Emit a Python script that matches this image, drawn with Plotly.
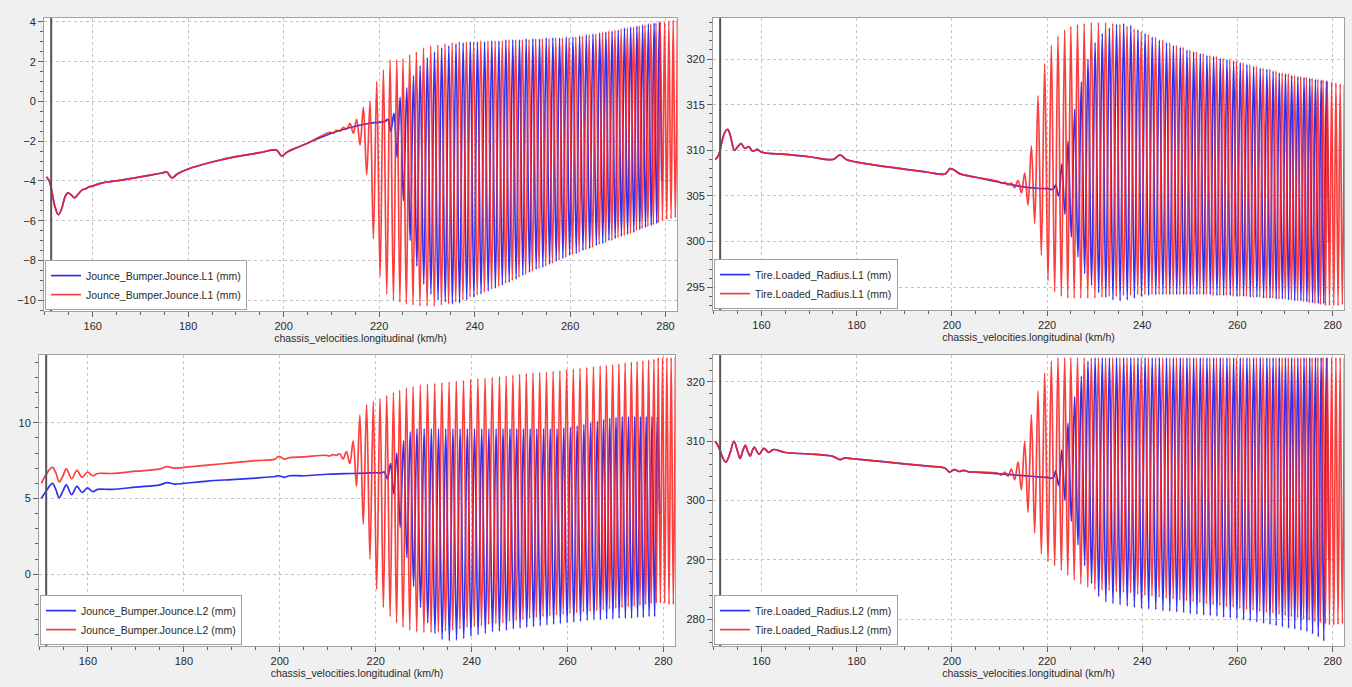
import plotly.graph_objects as go

# ---------------- DATA ----------------
title_x = "chassis_velocities.longitudinal (km/h)"
names = ["Jounce_Bumper.Jounce.L1 (mm)", "Tire.Loaded_Radius.L1 (mm)",
         "Jounce_Bumper.Jounce.L2 (mm)", "Tire.Loaded_Radius.L2 (mm)"]
cursor_x = 151.3

# shared oscillation extrema positions (km/h)
red_peak_x = [209.7, 211.1, 212.5, 213.9, 215.3, 216.7, 218.1, 219.5, 220.9, 222.3,
              223.7, 225.0, 226.4, 227.8, 229.3, 230.8, 232.3, 233.8, 235.3, 236.8,
              238.3, 239.8, 241.3, 242.8, 244.3, 245.8, 247.2, 248.6, 250.0, 251.4,
              252.8, 254.2, 255.6, 257.0, 258.4, 259.8, 261.2, 262.6, 264.0, 265.4,
              266.8, 268.1, 269.4, 270.7, 272.0, 273.3, 274.5, 275.7, 276.9, 278.0]
red_trough_x = [210.4, 211.8, 213.2, 214.6, 216.0, 217.4, 218.8, 220.2, 221.6, 223.0,
                224.35, 225.7, 227.1, 228.55, 230.05, 231.55, 233.05, 234.55, 236.05, 237.55,
                239.05, 240.55, 242.05, 243.55, 245.05, 246.5, 247.9, 249.3, 250.7, 252.1,
                253.5, 254.9, 256.3, 257.7, 259.1, 260.5, 261.9, 263.3, 264.7, 266.1,
                267.45, 268.75, 270.05, 271.35, 272.65, 273.9, 275.1, 276.3, 277.45, 278.5]
red_end_x = [278.9, 279.35, 279.8, 280.25, 280.7, 281.15, 281.6, 282.05, 282.5]
blue_peak_x = [221.8, 223.1, 224.4, 225.8, 227.2, 228.6, 230.1, 231.6, 233.1, 234.6,
               236.1, 237.6, 239.1, 240.6, 242.1, 243.6, 245.1, 246.55, 248.0, 249.4,
               250.8, 252.2, 253.6, 255.0, 256.4, 257.8, 259.2, 260.6, 262.0, 263.4,
               264.8, 266.2, 267.5, 268.8, 270.1, 271.4, 272.7, 274.0, 275.2, 276.4,
               277.6, 278.7]
blue_trough_x = [222.45, 223.75, 225.1, 226.5, 227.9, 229.35, 230.85, 232.35, 233.85, 235.35,
                 236.85, 238.35, 239.85, 241.35, 242.85, 244.35, 245.8, 247.25, 248.7, 250.1,
                 251.5, 252.9, 254.3, 255.7, 257.1, 258.5, 259.9, 261.3, 262.7, 264.1,
                 265.5, 266.85, 268.15, 269.45, 270.75, 272.05, 273.35, 274.6, 275.8, 277.0,
                 278.15, 279.2]

# ---- panel 1: Jounce L1 ----
p1_x = [150.3, 150.9, 151.5, 152.1, 152.8, 153.5, 154.2, 154.8, 155.5, 156.2, 157.0, 157.8,
        158.5, 159.2, 160.0, 162.0, 165.0, 170.0, 174.5, 175.5, 176.6, 177.7, 180.0, 185.0,
        190.0, 195.0, 198.5, 199.6, 200.7, 202.0, 205.0, 210.0, 215.0, 218.0, 220.0, 221.3]
p1_y = [-3.8, -4.0, -4.6, -5.3, -5.7, -5.4, -4.8, -4.6, -4.7, -4.85, -4.65, -4.45,
        -4.4, -4.3, -4.25, -4.1, -4.0, -3.8, -3.6, -3.55, -3.85, -3.65, -3.4, -3.05,
        -2.78, -2.58, -2.45, -2.75, -2.55, -2.4, -2.1, -1.6, -1.25, -1.1, -1.05, -1.0]
p1_red_peak = [-1.55, -1.45, -1.3, -1.1, -0.9, -0.3, 0.0, 1.0, 1.6, 2.1,
               2.1, 2.15, 2.35, 2.5, 2.7, 2.8, 2.85, 2.9, 2.95, 3.0,
               3.0, 3.0, 3.05, 3.05, 3.05, 3.05, 3.1, 3.1, 3.1, 3.1,
               3.15, 3.15, 3.15, 3.2, 3.2, 3.2, 3.25, 3.3, 3.35, 3.4,
               3.5, 3.55, 3.6, 3.65, 3.7, 3.75, 3.8, 3.85, 3.9, 3.95]
p1_red_trough = [-1.6, -1.5, -1.4, -1.6, -2.2, -3.7, -6.9, -8.8, -9.7, -10.0,
                 -10.1, -10.2, -10.25, -10.3, -10.3, -10.3, -10.25, -10.2, -10.1, -10.0,
                 -9.85, -9.75, -9.6, -9.45, -9.3, -9.15, -9.0, -8.85, -8.7, -8.55,
                 -8.4, -8.3, -8.15, -8.0, -7.85, -7.7, -7.6, -7.45, -7.35, -7.2,
                 -7.1, -7.0, -6.85, -6.75, -6.65, -6.5, -6.4, -6.3, -6.2, -6.1]
p1_red_end = [4.0, -6.0, 4.0, -5.95, 4.05, -5.9, 4.1, -5.85, 4.1]
p1_blue_peak = [-0.9, -0.6, 0.2, 0.7, 1.3, 1.8, 2.2, 2.5, 2.7, 2.8,
                2.9, 2.95, 3.0, 3.0, 3.0, 3.05, 3.05, 3.1, 3.1, 3.1,
                3.15, 3.15, 3.15, 3.2, 3.2, 3.2, 3.25, 3.25, 3.3, 3.35,
                3.4, 3.45, 3.5, 3.55, 3.6, 3.7, 3.75, 3.8, 3.85, 3.9,
                3.95, 4.0]
p1_blue_trough = [-1.5, -2.8, -5.0, -7.0, -8.3, -9.2, -9.7, -10.0, -10.1, -10.2,
                  -10.15, -10.0, -9.85, -9.7, -9.55, -9.4, -9.25, -9.1, -8.95, -8.75,
                  -8.6, -8.45, -8.35, -8.2, -8.05, -7.9, -7.75, -7.65, -7.5, -7.4,
                  -7.25, -7.15, -7.0, -6.9, -6.8, -6.7, -6.6, -6.45, -6.35, -6.25,
                  -6.15, -4.0]

# ---- panel 2: Tire radius L1 ----
p2_x = [150.3, 151.0, 151.7, 152.3, 152.9, 153.5, 154.3, 155.0, 155.7, 156.5, 157.3, 158.2,
        159.1, 160.0, 165.0, 170.0, 175.0, 176.5, 177.8, 180.0, 185.0, 190.0, 195.0, 198.6,
        199.6, 200.6, 201.6, 205.0, 210.0, 215.0, 218.0, 220.0, 221.3]
p2_y = [309.0, 309.5, 311.0, 312.0, 312.3, 311.5, 310.0, 310.4, 310.75, 310.2, 310.4, 309.9,
        310.1, 309.8, 309.55, 309.3, 309.0, 309.5, 309.0, 308.7, 308.3, 307.95, 307.6, 307.4,
        308.0, 307.8, 307.45, 307.05, 306.5, 306.0, 305.85, 305.8, 305.75]
p2_red_peak = [306.6, 306.5, 306.4, 306.7, 307.5, 310.5, 316.0, 319.5, 321.5, 322.5,
               323.2, 323.6, 323.8, 323.9, 324.0, 324.0, 324.0, 323.9, 323.8, 323.6,
               323.3, 323.0, 322.7, 322.4, 322.1, 321.8, 321.5, 321.3, 321.0, 320.8,
               320.6, 320.4, 320.3, 320.1, 319.95, 319.8, 319.6, 319.4, 319.2, 319.0,
               318.9, 318.7, 318.5, 318.4, 318.2, 318.1, 318.0, 317.9, 317.8, 317.7]
p2_red_trough = [306.4, 306.2, 305.9, 305.3, 304.0, 302.0, 298.5, 295.7, 294.5, 294.0,
                 293.8, 293.8, 293.8, 293.8, 293.8, 293.9, 294.0, 294.0, 294.1, 294.1,
                 294.2, 294.2, 294.2, 294.2, 294.2, 294.2, 294.2, 294.2, 294.2, 294.2,
                 294.2, 294.1, 294.1, 294.1, 294.0, 294.0, 294.0, 293.9, 293.9, 293.8,
                 293.8, 293.7, 293.7, 293.6, 293.5, 293.4, 293.3, 293.2, 293.1, 293.0]
p2_red_end = [317.6, 293.0, 317.5, 293.0, 317.4, 293.0, 317.3, 293.1, 317.2]
p2_blue_peak = [306.2, 308.5, 311.0, 314.5, 317.5, 320.0, 321.8, 322.8, 323.4, 323.8,
                323.9, 323.7, 323.2, 322.8, 322.4, 322.1, 321.8, 321.5, 321.3, 321.0,
                320.8, 320.6, 320.4, 320.3, 320.1, 319.95, 319.8, 319.6, 319.4, 319.2,
                319.0, 318.9, 318.7, 318.5, 318.4, 318.2, 318.1, 318.0, 317.9, 317.8,
                317.7, 317.6]
p2_blue_trough = [305.0, 303.0, 300.5, 298.3, 296.5, 295.2, 294.4, 293.9, 293.6, 293.5,
                  293.6, 293.8, 294.0, 294.1, 294.2, 294.2, 294.2, 294.2, 294.2, 294.2,
                  294.2, 294.2, 294.2, 294.1, 294.1, 294.1, 294.0, 294.0, 293.9, 293.9,
                  293.8, 293.8, 293.7, 293.7, 293.6, 293.5, 293.5, 293.4, 293.3, 293.2,
                  293.2, 300.0]

# ---- panel 3: Jounce L2 ----
p3_x = [150.3, 151.5, 152.6, 153.3, 154.0, 154.8, 155.5, 156.6, 157.7, 158.8, 159.9, 161.0,
        162.0, 165.0, 170.0, 175.0, 176.5, 178.0, 180.0, 185.0, 190.0, 195.0, 199.0, 199.8,
        201.0, 202.0, 205.0, 210.0, 215.0, 218.0, 220.0, 221.3]
p3_red_y = [6.0, 6.7, 7.05, 6.7, 6.1, 6.5, 6.95, 6.3, 6.85, 6.4, 6.75, 6.5,
            6.65, 6.65, 6.8, 6.95, 7.1, 7.0, 7.05, 7.2, 7.35, 7.5, 7.6, 7.78,
            7.6, 7.7, 7.75, 7.8, 7.9, 8.0, 8.0, 8.0]
p3_blue_y = [5.0, 5.6, 6.0, 5.6, 5.05, 5.5, 5.9, 5.25, 5.8, 5.4, 5.7, 5.45,
             5.6, 5.6, 5.75, 5.9, 6.05, 5.95, 6.0, 6.15, 6.25, 6.35, 6.45, 6.5,
             6.4, 6.5, 6.5, 6.6, 6.65, 6.68, 6.7, 6.7]
p3_red_peak = [7.85, 7.9, 7.95, 8.1, 8.8, 10.5, 11.2, 11.4, 11.6, 11.8,
               12.0, 12.15, 12.3, 12.4, 12.5, 12.55, 12.6, 12.65, 12.7, 12.75,
               12.8, 12.85, 12.9, 12.95, 13.0, 13.05, 13.1, 13.15, 13.2, 13.25,
               13.3, 13.3, 13.35, 13.4, 13.45, 13.5, 13.55, 13.6, 13.65, 13.7,
               13.75, 13.8, 13.85, 13.9, 13.95, 14.0, 14.05, 14.1, 14.15, 14.2]
p3_red_trough = [7.8, 7.85, 7.6, 7.3, 5.8, 3.3, 1.0, -1.0, -2.2, -2.8,
                 -3.2, -3.5, -3.7, -3.8, -3.85, -3.85, -3.8, -3.75, -3.7, -3.6,
                 -3.5, -3.45, -3.4, -3.3, -3.25, -3.2, -3.1, -3.05, -3.0, -2.9,
                 -2.85, -2.8, -2.75, -2.7, -2.65, -2.6, -2.55, -2.5, -2.45, -2.4,
                 -2.35, -2.3, -2.25, -2.2, -2.15, -2.1, -2.05, -2.0, -1.95, -1.9]
p3_red_end = [14.3, -1.9, 14.3, -1.9, 14.3, -2.0, 14.3, -2.0, 14.3]
p3_blue_peak = [6.75, 7.3, 8.0, 8.8, 9.4, 9.6, 9.6, 9.6, 9.6, 9.6,
                9.6, 9.6, 9.6, 9.6, 9.6, 9.6, 9.6, 9.6, 9.6, 9.6,
                9.6, 9.6, 9.6, 9.6, 9.6, 9.6, 9.65, 9.7, 9.8, 9.9,
                10.0, 10.1, 10.2, 10.3, 10.35, 10.4, 10.4, 10.4, 10.4, 10.4,
                10.4, 10.4]
p3_blue_trough = [6.3, 5.3, 3.1, 1.1, -0.8, -2.2, -3.2, -3.9, -4.3, -4.4,
                  -4.35, -4.25, -4.1, -4.0, -3.9, -3.8, -3.75, -3.7, -3.6, -3.55,
                  -3.5, -3.45, -3.4, -3.35, -3.3, -3.25, -3.2, -3.15, -3.1, -3.05,
                  -3.0, -3.0, -2.95, -2.95, -2.9, -2.9, -2.9, -2.85, -2.85, -2.8,
                  -2.8, 4.0]

# ---- panel 4: Tire radius L2 ----
p4_x = [150.3, 151.0, 151.8, 152.5, 153.3, 154.2, 155.0, 155.5, 156.1, 156.6, 157.1, 157.6,
        158.1, 158.5, 159.0, 159.5, 160.5, 161.5, 162.5, 165.0, 170.0, 175.0, 176.5, 177.5,
        178.5, 180.0, 185.0, 190.0, 195.0, 198.5, 199.5, 200.5, 201.5, 202.5, 203.5, 205.0,
        210.0, 215.0, 218.0, 220.0, 221.3]
p4_y = [310.0, 309.0, 307.3, 306.5, 307.8, 310.0, 308.2, 307.1, 308.5, 309.3, 308.3, 307.5,
        308.5, 309.0, 308.3, 307.8, 308.8, 308.1, 308.6, 308.1, 307.85, 307.45, 306.9, 307.2,
        307.1, 307.0, 306.6, 306.2, 305.8, 305.5, 304.8, 305.2, 304.9, 305.1, 304.85, 304.8,
        304.5, 304.2, 304.0, 303.9, 303.8]
p4_red_peak = [304.6, 304.8, 305.3, 306.5, 310.0, 314.5, 318.5, 321.5, 323.5, 324.1,
               324.1, 324.1, 324.1, 324.1, 324.1, 324.1, 324.1, 324.1, 324.1, 324.1,
               324.1, 324.1, 324.1, 324.1, 324.1, 324.1, 324.1, 324.1, 324.1, 324.1,
               324.1, 324.1, 324.1, 324.1, 324.1, 324.1, 324.1, 324.1, 324.1, 324.1,
               324.1, 324.1, 324.1, 324.1, 324.1, 324.1, 324.1, 324.1, 324.1, 324.1]
p4_red_trough = [304.3, 304.1, 303.5, 301.8, 298.0, 294.5, 291.0, 289.7, 289.0, 288.2,
                 287.4, 286.6, 285.9, 285.4, 285.0, 284.9, 284.8, 284.6, 284.5, 284.4,
                 284.2, 284.0, 283.9, 283.7, 283.5, 283.4, 283.2, 283.1, 282.9, 282.8,
                 282.6, 282.4, 282.3, 282.1, 282.0, 281.8, 281.6, 281.5, 281.3, 281.1,
                 281.0, 280.8, 280.6, 280.4, 280.2, 280.0, 279.8, 279.6, 279.4, 279.2]
p4_red_end = [324.1, 279.0, 324.1, 279.0, 324.1, 279.1, 324.1, 279.2, 324.1]
p4_blue_peak = [305.0, 308.5, 313.0, 317.5, 321.0, 323.5, 324.1, 324.1, 324.1, 324.1,
                324.1, 324.1, 324.1, 324.1, 324.1, 324.1, 324.1, 324.1, 324.1, 324.1,
                324.1, 324.1, 324.1, 324.1, 324.1, 324.1, 324.1, 324.1, 324.1, 324.1,
                324.1, 324.1, 324.1, 324.1, 324.1, 324.1, 324.1, 324.1, 324.1, 324.1,
                324.1, 324.1]
p4_blue_trough = [302.5, 300.0, 296.5, 292.5, 289.0, 286.0, 283.8, 282.9, 282.6, 282.4,
                  282.2, 282.0, 281.8, 281.7, 281.6, 281.4, 281.3, 281.2, 281.1, 280.9,
                  280.8, 280.7, 280.6, 280.5, 280.3, 280.2, 280.1, 279.9, 279.7, 279.5,
                  279.3, 279.1, 278.9, 278.7, 278.5, 278.3, 278.1, 277.9, 277.5, 277.0,
                  276.3, 290.0]

x_ticks = [160, 180, 200, 220, 240, 260, 280]

# ---------------- BUILD ----------------
def build(sx, sy, px, py, tx, ty, ex=None, ey=None):
    assert len(px) == len(py) and len(tx) == len(ty)
    start = min(px[0], tx[0])
    pts = [(a, b) for a, b in zip(sx, sy) if a < start]
    pts += sorted(list(zip(px, py)) + list(zip(tx, ty)))
    if ex is not None:
        assert len(ex) == len(ey)
        pts += list(zip(ex, ey))
    xs, ys = zip(*pts)
    return list(xs), list(ys)

series = [
    (build(p1_x, p1_y, blue_peak_x, p1_blue_peak, blue_trough_x, p1_blue_trough),
     build(p1_x, p1_y, red_peak_x, p1_red_peak, red_trough_x, p1_red_trough, red_end_x, p1_red_end)),
    (build(p2_x, p2_y, blue_peak_x, p2_blue_peak, blue_trough_x, p2_blue_trough),
     build(p2_x, p2_y, red_peak_x, p2_red_peak, red_trough_x, p2_red_trough, red_end_x, p2_red_end)),
    (build(p3_x, p3_blue_y, blue_peak_x, p3_blue_peak, blue_trough_x, p3_blue_trough),
     build(p3_x, p3_red_y, red_peak_x, p3_red_peak, red_trough_x, p3_red_trough, red_end_x, p3_red_end)),
    (build(p4_x, p4_y, blue_peak_x, p4_blue_peak, blue_trough_x, p4_blue_trough),
     build(p4_x, p4_y, red_peak_x, p4_red_peak, red_trough_x, p4_red_trough, red_end_x, p4_red_end)),
]

W, H = 1352, 687
# plot-area pixel boxes (left, right, top, bottom)
boxes = [(44, 677, 16, 310), (713, 1344, 16, 309), (39, 675, 354, 646), (713, 1344, 354, 646)]
yranges = [(-10.55, 4.2), (292.5, 324.5), (-4.74, 14.47), (275.45, 324.55)]
ydticks = [2, 5, 5, 10]
yminor = [0.5, 1, 1, 2]

FONT = "Liberation Sans"
BLUE = "rgba(25,25,235,0.9)"
RED = "rgba(250,35,35,0.87)"

fig = go.Figure()
layout = dict(width=W, height=H, margin=dict(l=0, r=0, t=0, b=0),
              paper_bgcolor="#f0f0f0", plot_bgcolor="white",
              font=dict(family=FONT, size=11, color="#2a2a2a"), shapes=[])

for i in range(4):
    n = i + 1
    sfx = "" if n == 1 else str(n)
    L, R, T, B = boxes[i]
    (bx, by), (rx, ry) = series[i]
    leg = "legend" if n == 1 else f"legend{n}"
    fig.add_trace(go.Scatter(x=bx, y=by, mode="lines", name=names[i],
                             line=dict(color=BLUE, width=1.7, shape="spline"),
                             xaxis="x" + sfx, yaxis="y" + sfx, legend=leg))
    fig.add_trace(go.Scatter(x=rx, y=ry, mode="lines", name=names[i],
                             line=dict(color=RED, width=1.7, shape="spline"),
                             xaxis="x" + sfx, yaxis="y" + sfx, legend=leg))
    axcommon = dict(showline=True, linecolor="#a0a0a0", linewidth=1, mirror=True,
                    ticks="outside", ticklen=5, tickcolor="#606060",
                    showgrid=True, gridcolor="#c4c4c4", griddash="dot", gridwidth=1,
                    zeroline=False, tickfont=dict(size=11, color="#2a2a2a"))
    layout["xaxis" + sfx] = dict(axcommon, domain=[L / W, R / W], anchor="y" + sfx,
                                 range=[149.8, 282.4], tickvals=x_ticks,
                                 minor=dict(dtick=5, tick0=0, ticks="outside", ticklen=3,
                                            tickcolor="#606060", showgrid=False),
                                 title=dict(text=title_x, font=dict(size=10.5, color="#2a2a2a"),
                                            standoff=3))
    layout["yaxis" + sfx] = dict(axcommon, domain=[1 - B / H, 1 - T / H], anchor="x" + sfx,
                                 range=list(yranges[i]), dtick=ydticks[i], tick0=0,
                                 minor=dict(dtick=yminor[i], tick0=0, ticks="outside", ticklen=3,
                                            tickcolor="#606060", showgrid=False))
    layout[leg] = dict(x=(L + 1) / W, y=1 - (B - 1) / H, xanchor="left", yanchor="bottom",
                       bgcolor="white", bordercolor="#a0a0a0", borderwidth=1,
                       font=dict(family=FONT, size=10.5, color="#2a2a2a"),
                       itemwidth=30, tracegroupgap=0)
    layout["shapes"].append(dict(type="line", xref="x" + sfx, yref=f"y{sfx} domain",
                                 x0=cursor_x, x1=cursor_x, y0=0, y1=1,
                                 line=dict(color="#555555", width=2)))

fig.update_layout(**layout)
fig.write_html("out.html")
